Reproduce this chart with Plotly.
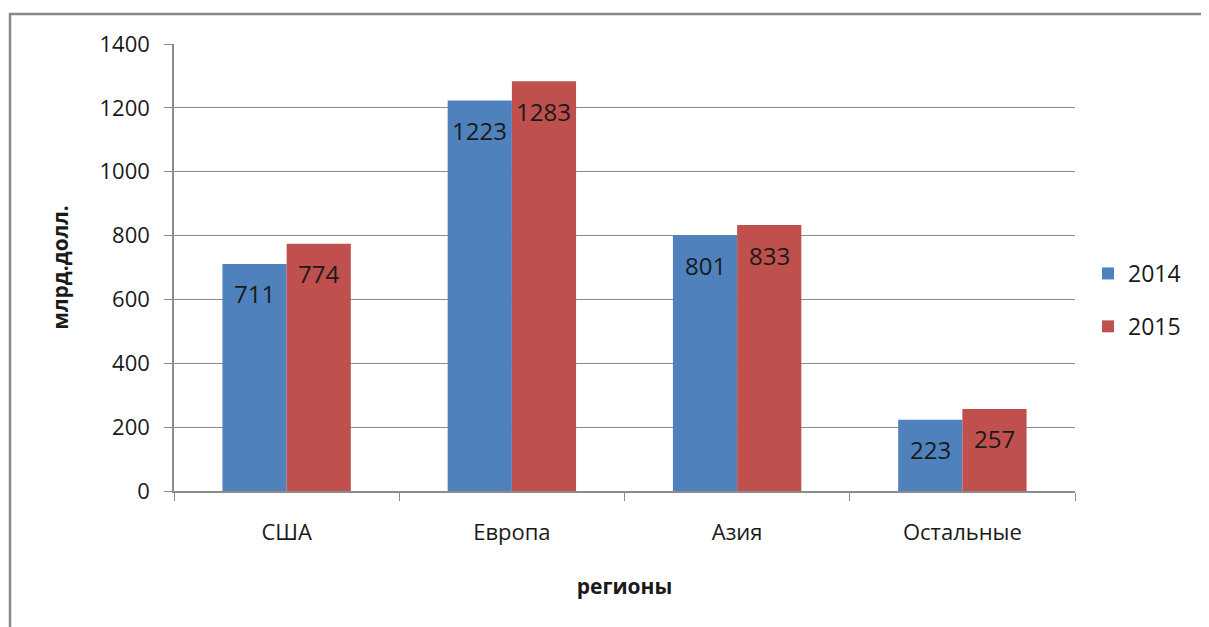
import plotly.graph_objects as go

categories = ["США", "Европа", "Азия", "Остальные"]
series_names = ["2014", "2015"]
values_2014 = [711, 1223, 801, 223]
values_2015 = [774, 1283, 833, 257]
y_ticks = [0, 200, 400, 600, 800, 1000, 1200, 1400]

colors = ["#4F81BD", "#C0504D"]
FONT = "Open Sans"
TXT = "#1a1a1a"

# plot area in figure coordinates
L, R, T, B = 166, 1067, 36, 483
W, H = 1209, 627
PW, PH = R - L, B - T

fig = go.Figure()
for name, vals, col in zip(series_names, [values_2014, values_2015], colors):
    fig.add_trace(go.Bar(
        x=categories, y=vals, name=name, legendgroup=name,
        marker=dict(color=col, line=dict(width=0)),
    ))

annotations = []
for k, vals in enumerate([values_2014, values_2015]):
    for c, v in zip(categories, vals):
        annotations.append(dict(
            x=c, y=v, xref="x", yref="y", text=str(v), showarrow=False,
            xshift=(-32 if k == 0 else 32), yshift=-30,
            font=dict(family=FONT, size=24, color=TXT),
        ))

fig.update_layout(
    width=W, height=H,
    margin=dict(l=L, r=W - R, t=T, b=H - B),
    paper_bgcolor="white", plot_bgcolor="white",
    barmode="group", bargap=0.43, bargroupgap=0,
    font=dict(family=FONT, size=23, color=TXT),
    showlegend=True,
    legend=dict(x=(1080 - L) / PW, y=(B - 292) / PH, xanchor="left", yanchor="middle",
                font=dict(family=FONT, size=23, color=TXT),
                tracegroupgap=20, itemwidth=30, bgcolor="rgba(0,0,0,0)"),
    annotations=annotations,
    shapes=[dict(type="rect", xref="paper", yref="paper",
                 x0=(2 - L) / PW, x1=(1230 - L) / PW,
                 y0=(B - 660) / PH, y1=(B - 6) / PH,
                 line=dict(color="#888888", width=2.5), fillcolor="rgba(0,0,0,0)",
                 layer="below")],
)
fig.update_xaxes(
    showline=True, linecolor="#8c8c8c", linewidth=1.5,
    ticks="outside", ticklen=8, tickcolor="#8c8c8c", tickson="boundaries",
    ticklabelstandoff=21,
    tickfont=dict(family=FONT, size=22, color=TXT),
    title=dict(text="<b>регионы</b>", font=dict(family=FONT, size=21, color=TXT), standoff=34),
    showgrid=False,
)
fig.update_yaxes(
    range=[0, 1400], tickvals=y_ticks,
    showline=True, linecolor="#8c8c8c", linewidth=1.5,
    ticks="outside", ticklen=8, tickcolor="#8c8c8c",
    ticklabelstandoff=10,
    showgrid=True, gridcolor="#8c8c8c", gridwidth=1.2,
    tickfont=dict(family=FONT, size=22, color=TXT),
    title=dict(text="<b>млрд.долл.</b>", font=dict(family=FONT, size=21, color=TXT), standoff=25),
    zeroline=False,
)

fig.write_html("out.html")
